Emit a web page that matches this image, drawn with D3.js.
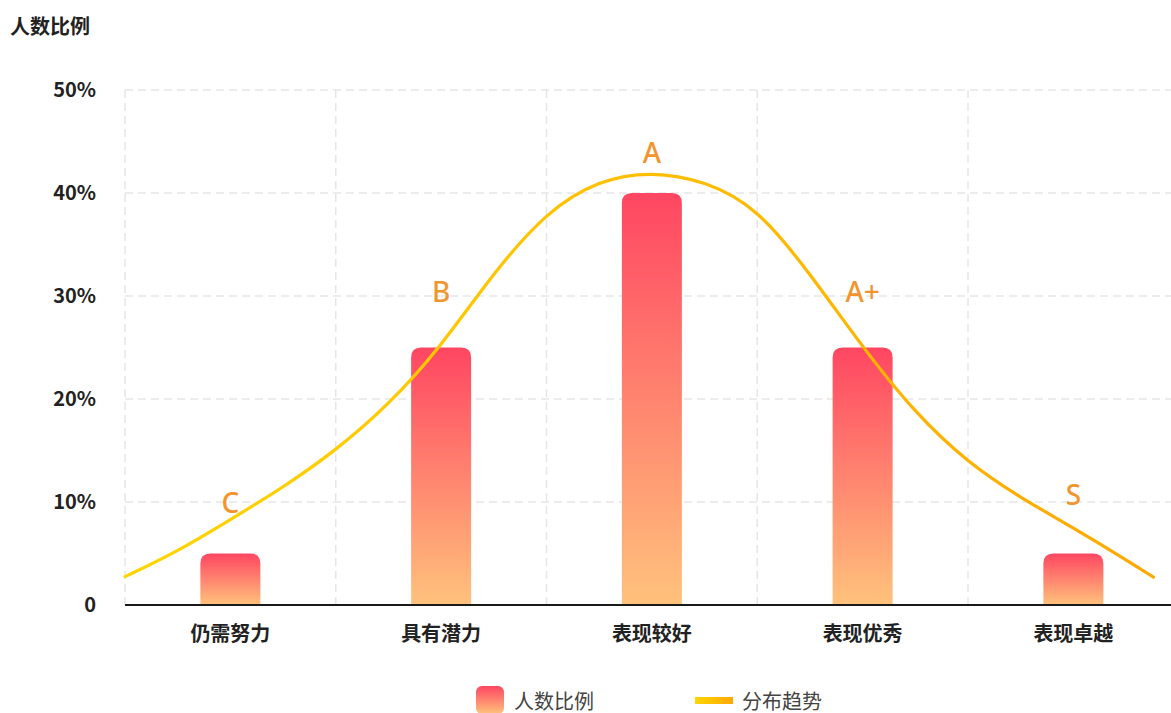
<!DOCTYPE html>
<html>
<head>
<meta charset="utf-8">
<script src="https://cdn.jsdelivr.net/npm/d3@7/dist/d3.min.js"></script>
<style>
  html, body { margin: 0; padding: 0; background: #fff; }
  svg { display: block; }
</style>
</head>
<body>
<svg id="chart" width="1171" height="713"></svg>
<script>
// ---------- data ----------
const categories = ["仍需努力", "具有潜力", "表现较好", "表现优秀", "表现卓越"];
const barValues = [5, 25, 40, 25, 5];
const gradeLabels = ["C", "B", "A", "A+", "S"];
const gradeLabelLevels = [10, 30.5, 44, 30.5, 10.8];
const yTicks = [0, 10, 20, 30, 40, 50];
// trend curve: position in category units (0 = left edge of first band), value in %
const trendPos = [0, 0.25, 0.5, 0.75, 1, 1.25, 1.5, 1.75, 2, 2.25, 2.5, 2.75, 3, 3.25, 3.5, 3.75, 4, 4.25, 4.5, 4.75, 4.88];
const trendVal = [2.75, 5.2, 8.3, 11.4, 15.0, 19.4, 25.1, 32.3, 38.2, 41.3, 42.1, 41.2, 38.6, 32.2, 25.0, 18.6, 13.8, 10.4, 7.5, 4.4, 2.7];
const yTitle = "人数比例";
const legendBar = "人数比例";
const legendLine = "分布趋势";

// ---------- layout ----------
const plotLeft = 125, bandW = 210.75, plotTop = 90, plotBottom = 605;
const svg = d3.select("#chart");
const cjk = "'Noto Sans CJK SC', 'Noto Sans', sans-serif";

const x = d3.scaleBand().domain(categories).range([plotLeft, plotLeft + bandW * categories.length]).paddingInner(0).paddingOuter(0);
const xu = d3.scaleLinear().domain([0, categories.length]).range([plotLeft, plotLeft + bandW * categories.length]);
const y = d3.scaleLinear().domain([0, 50]).range([plotBottom, plotTop]);

// ---------- defs ----------
const defs = svg.append("defs");
const bg = defs.append("linearGradient").attr("id", "barGrad").attr("x1", 0).attr("y1", 0).attr("x2", 0).attr("y2", 1);
bg.append("stop").attr("offset", "0%").attr("stop-color", "#FF4662");
bg.append("stop").attr("offset", "100%").attr("stop-color", "#FFC27C");
const lg = defs.append("linearGradient").attr("id", "lineGrad").attr("gradientUnits", "userSpaceOnUse")
  .attr("x1", plotLeft).attr("y1", 0).attr("x2", 1160).attr("y2", 0);
lg.append("stop").attr("offset", "0%").attr("stop-color", "#FFD500");
lg.append("stop").attr("offset", "100%").attr("stop-color", "#FFA800");
const lg2 = defs.append("linearGradient").attr("id", "legLineGrad").attr("x1", 0).attr("y1", 0).attr("x2", 1).attr("y2", 0);
lg2.append("stop").attr("offset", "0%").attr("stop-color", "#FFD500");
lg2.append("stop").attr("offset", "100%").attr("stop-color", "#FFA800");

// ---------- grid ----------
const grid = svg.append("g");
grid.selectAll("line.h").data(yTicks.filter(d => d > 0)).join("line")
  .attr("x1", plotLeft).attr("x2", 1171)
  .attr("y1", d => y(d)).attr("y2", d => y(d))
  .attr("stroke", "#e6e6e6").attr("stroke-width", 1.5).attr("stroke-dasharray", "8,5");
grid.selectAll("line.v").data(categories).join("line")
  .attr("x1", d => x(d)).attr("x2", d => x(d))
  .attr("y1", y(50)).attr("y2", plotBottom)
  .attr("stroke", "#e6e6e6").attr("stroke-width", 1.5).attr("stroke-dasharray", "8,5");

// ---------- bars ----------
const bw = 60, rad = 10;
function barPath(cx, v) {
  const x0 = cx - bw / 2, x1 = cx + bw / 2, y0 = y(v), yb = y(0);
  const rr = Math.min(rad, (yb - y0));
  return `M${x0},${yb} L${x0},${y0 + rr} Q${x0},${y0} ${x0 + rr},${y0} L${x1 - rr},${y0} Q${x1},${y0} ${x1},${y0 + rr} L${x1},${yb} Z`;
}
svg.append("g").selectAll("path").data(categories).join("path")
  .attr("d", (d, i) => barPath(x(d) + x.bandwidth() / 2, barValues[i]))
  .attr("fill", "url(#barGrad)");

// ---------- axes ----------
const yAxis = svg.append("g").attr("transform", `translate(${plotLeft},0)`)
  .call(d3.axisLeft(y).tickValues(yTicks).tickSize(0).tickPadding(29).tickFormat(d => d === 0 ? "0" : d + "%"));
yAxis.select(".domain").remove();
yAxis.selectAll("text").attr("font-family", cjk).attr("font-size", 20).attr("font-weight", "bold").attr("fill", "#222");

const xAxis = svg.append("g").attr("transform", `translate(0,${plotBottom})`)
  .call(d3.axisBottom(x).tickSize(0).tickPadding(22));
xAxis.select(".domain").remove();
xAxis.selectAll("text").attr("font-family", cjk).attr("font-size", 20).attr("font-weight", "bold").attr("fill", "#222");
svg.append("line").attr("x1", plotLeft).attr("x2", 1171).attr("y1", plotBottom).attr("y2", plotBottom)
  .attr("stroke", "#1a1a1a").attr("stroke-width", 2);

// ---------- trend line ----------
const line = d3.line().x((d, i) => xu(trendPos[i])).y(d => y(d)).curve(d3.curveBasis);
svg.append("path").datum(trendVal).attr("d", line)
  .attr("fill", "none").attr("stroke", "url(#lineGrad)").attr("stroke-width", 3.2).attr("stroke-linecap", "round");

// ---------- grade labels ----------
svg.append("g").selectAll("text").data(gradeLabels).join("text")
  .attr("x", (d, i) => x(categories[i]) + x.bandwidth() / 2)
  .attr("y", (d, i) => y(gradeLabelLevels[i]))
  .attr("text-anchor", "middle").attr("dominant-baseline", "central")
  .attr("font-family", "'Noto Sans', sans-serif").attr("font-size", 28).attr("font-weight", 500)
  .attr("fill", "#F3952F").text(d => d);

// ---------- y title ----------
svg.append("text").attr("x", 10).attr("y", 25).attr("dominant-baseline", "central")
  .attr("font-family", cjk).attr("font-size", 20).attr("font-weight", "bold").attr("fill", "#222")
  .text(yTitle);

// ---------- legend ----------
const leg = svg.append("g");
leg.append("rect").attr("x", 476).attr("y", 686).attr("width", 28).attr("height", 28).attr("rx", 6)
  .attr("fill", "url(#barGrad)");
leg.append("text").attr("x", 514).attr("y", 700).attr("dominant-baseline", "central")
  .attr("font-family", cjk).attr("font-size", 20).attr("fill", "#444").text(legendBar);
leg.append("rect").attr("x", 695).attr("y", 697).attr("width", 38).attr("height", 7)
  .attr("fill", "url(#legLineGrad)");
leg.append("text").attr("x", 742).attr("y", 700).attr("dominant-baseline", "central")
  .attr("font-family", cjk).attr("font-size", 20).attr("fill", "#444").text(legendLine);
</script>
</body>
</html>
